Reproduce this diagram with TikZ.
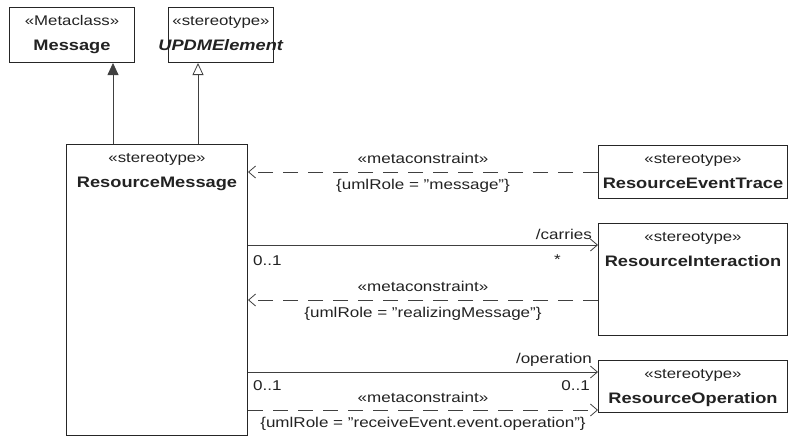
\documentclass[tikz,border=0pt]{standalone}
\usepackage{fontspec}
\setmainfont{Liberation Sans}[FakeStretch=1.2]
\usetikzlibrary{arrows.meta}
\definecolor{umlline}{HTML}{404040}
\definecolor{umltext}{HTML}{222222}
\tikzset{
  cls/.style={draw=black!85,line width=1pt,anchor=north west,inner sep=0pt},
  st/.style={anchor=base,font=\fontsize{14}{16}\selectfont,text=umltext},
  nm/.style={anchor=base,font=\fontsize{15.2}{18}\selectfont\bfseries,text=umltext},
  lbl/.style={font=\fontsize{14.2}{16}\selectfont,text=umltext,inner sep=0pt},
  assoc/.style={draw=umlline,line width=0.8pt,-{Straight Barb[length=7pt,width=12pt]}},
  dep/.style={assoc,dash pattern=on 15pt off 10pt},
  gen/.style={draw=umlline,line width=0.8pt},
}

\begin{document}
\begin{tikzpicture}[x=1pt,y=-1pt]
  \useasboundingbox (0,0) rectangle (789,440);
  % classes: name/x/y/width/height/stereotype/title
  \foreach \n/\x/\y/\w/\h/\s/\t in {msg/9/7/125/55/Metaclass/Message,
      upd/168/7/105/55/stereotype/\textit{UPDMElement},
      rm/66/144/181/291/stereotype/ResourceMessage,
      ret/598/145/189/53/stereotype/ResourceEventTrace,
      ri/598/223/189/112/stereotype/ResourceInteraction,
      ro/598/360/189/52/stereotype/ResourceOperation}{
    \node[cls,minimum width=\w pt,minimum height=\h pt] (\n) at (\x,\y) {};
    \node[st] (\n-st) at ([yshift=-18pt]\n.north) {«\s»};
    \node[nm] (\n-nm) at ([yshift=-43pt]\n.north) {\t};
  }
  % generalizations
  \coordinate (genA) at ([xshift=47pt]rm.north west);
  \coordinate (genB) at ([xshift=132pt]rm.north west);
  \draw[gen,-{Triangle[length=12pt,width=11pt]}] (genA) -- (genA |- msg.south);
  \draw[gen,-{Triangle[open,length=12pt,width=11pt,fill=white]}] (genB) -- (genB |- upd.south);
  % metaconstraint to ResourceEventTrace
  \draw[dep] (ret.west) -- (ret.west -| rm.east)
    node[lbl,midway,above=8pt] (mc1) {«metaconstraint»}
    node[lbl,midway,below=7pt] (role1) {\{umlRole = "message"\}};
  % carries
  \coordinate (carA) at ([yshift=-22pt]ri.north west);
  \draw[assoc] (carA -| rm.east) -- (carA);
  \node[lbl,anchor=south east] (carries) at ([xshift=-6pt,yshift=5pt]carA) {/carries};
  \node[lbl,anchor=north west] (carM1) at ([xshift=5pt,yshift=-10pt]carA -| rm.east) {0..1};
  \node[lbl,anchor=north east] (carM2) at ([xshift=-37pt,yshift=-10pt]carA) {*};
  % metaconstraint to ResourceInteraction
  \coordinate (rlzA) at ([yshift=-77pt]ri.north west);
  \draw[dep] (rlzA) -- (rlzA -| rm.east)
    node[lbl,midway,above=8pt] (mc2) {«metaconstraint»}
    node[lbl,midway,below=7pt] (role2) {\{umlRole = "realizingMessage"\}};
  % operation
  \coordinate (opA) at ([yshift=-12pt]ro.north west);
  \draw[assoc] (opA -| rm.east) -- (opA);
  \node[lbl,anchor=south east] (oper) at ([xshift=-6pt,yshift=5pt]opA) {/operation};
  \node[lbl,anchor=north west] (opM1) at ([xshift=5pt,yshift=-8pt]opA -| rm.east) {0..1};
  \node[lbl,anchor=north east] (opM2) at ([xshift=-8pt,yshift=-8pt]opA) {0..1};
  % metaconstraint to ResourceOperation
  \coordinate (recA) at ([yshift=3pt]ro.south west);
  \draw[dep] (recA -| rm.east) -- (recA)
    node[lbl,midway,above=7pt] (mc3) {«metaconstraint»}
    node[lbl,midway,below=7pt] (role3) {\{umlRole = "receiveEvent.event.operation"\}};
\end{tikzpicture}
\end{document}
